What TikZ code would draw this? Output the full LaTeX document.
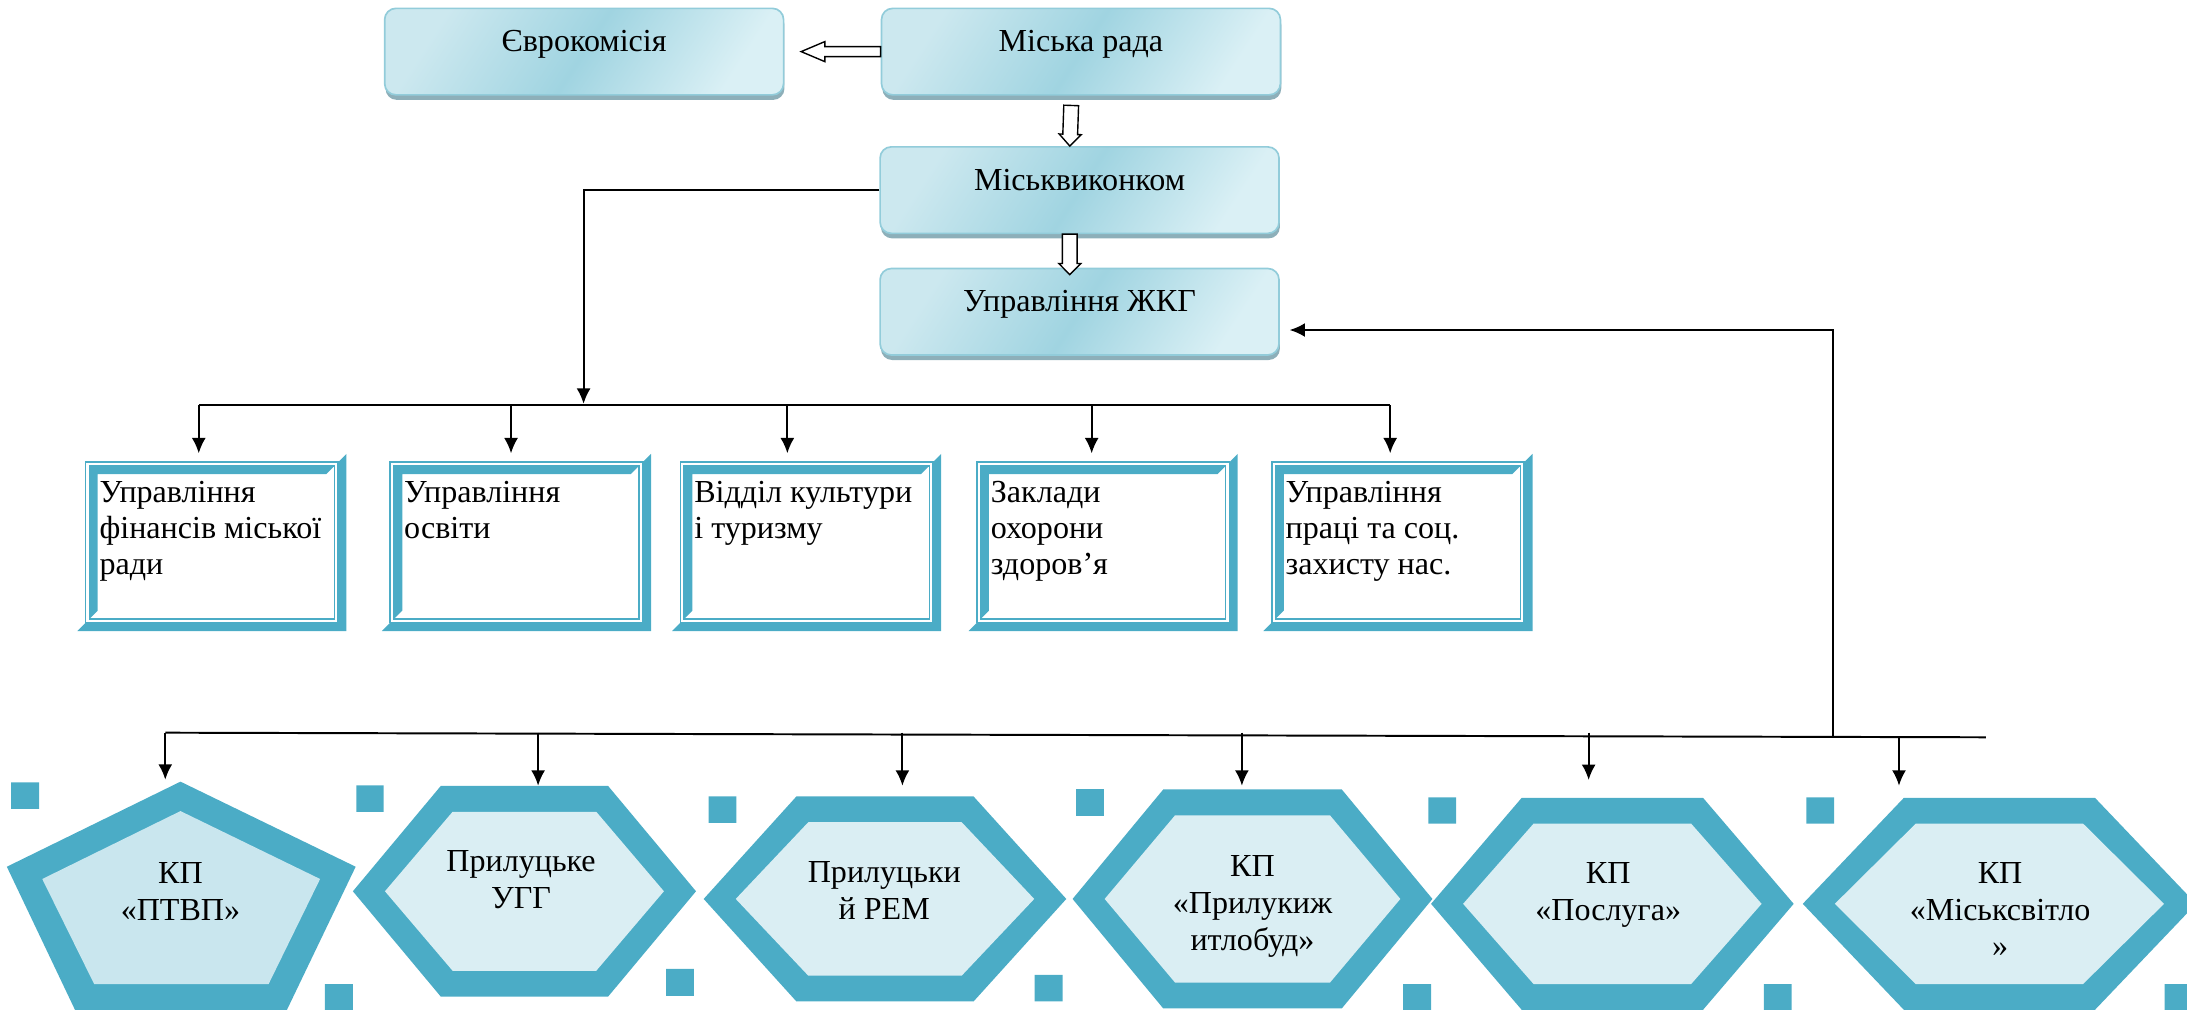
\documentclass[tikz,border=0pt]{standalone}
\usepackage{fontspec}
\setmainfont{Liberation Serif}
\usepackage{tikz}
\usetikzlibrary{arrows.meta, calc, shadows}
\definecolor{bevblue}{HTML}{4BACC6}
\definecolor{hexfill}{HTML}{DAEEF3}
\definecolor{pentfill}{HTML}{C9E6EE}
\definecolor{topl}{HTML}{CCE8EF}
\definecolor{topm}{HTML}{A0D4E1}
\definecolor{topr}{HTML}{DAF0F5}
\definecolor{topline}{HTML}{92CCDA}
\definecolor{topshade}{HTML}{8DAFB9}
\newcommand{\stackc}[1]{\begin{tabular}[t]{@{}c@{}}#1\end{tabular}}
\newcommand{\stackl}[1]{\parbox[t][46.5pt][t]{80.5pt}{\begin{tabular}[t]{@{}l@{}}#1\end{tabular}}}
% hollow block arrow: start, tip, half shaft, half head, head length
\newcommand{\hollowarrow}[5]{%
	\coordinate (ha-s) at (#1);
	\coordinate (ha-t) at (#2);
	\coordinate (ha-h) at ($(ha-t)!#5!(ha-s)$);
	\filldraw[fill=white, draw=black, line width=0.5pt]
		($(ha-s)!#3!90:(ha-t)$) -- ($(ha-h)!#3!90:(ha-t)$) -- ($(ha-h)!#4!90:(ha-t)$)
		-- (ha-t) -- ($(ha-h)!#4!-90:(ha-t)$) -- ($(ha-h)!#3!-90:(ha-t)$)
		-- ($(ha-s)!#3!-90:(ha-t)$) -- cycle;
}
% hexagon: centre x, centre y, half width, half top edge, half height
\newcommand{\hexagon}[5]{%
	\fill[bevblue] ({#1-#3},#2) -- ({#1-#4},{#2-#5}) -- ({#1+#4},{#2-#5}) -- ({#1+#3},#2)
		-- ({#1+#4},{#2+#5}) -- ({#1-#4},{#2+#5}) -- cycle;
	\fill[hexfill] ({#1-#3+23},#2) -- ({#1-#4+8.5},{#2-#5+18.5}) -- ({#1+#4-8.5},{#2-#5+18.5})
		-- ({#1+#3-23},#2) -- ({#1+#4-8.5},{#2+#5-18.5}) -- ({#1-#4+8.5},{#2+#5-18.5}) -- cycle;
}

\begin{document}
\begin{tikzpicture}[x=0.5pt, y=-0.5pt,
	topbox/.style={rectangle, rounded corners=4pt, minimum width=143pt, minimum height=31pt,
		inner sep=0pt, text height=4pt, text depth=4pt, draw=topline, line width=0.6pt,
		left color=topl, right color=topr, middle color=topm, shading angle=57,
		drop shadow={shadow xshift=0.3pt, shadow yshift=-1.8pt, fill=topshade, opacity=1},
		font=\fontsize{11.5}{13.5}\selectfont},
	framebox/.style={anchor=north west, minimum width=96.5pt, minimum height=63.5pt,
		inner xsep=8pt, inner ysep=8.5pt, font=\fontsize{11.5}{12.9}\selectfont,
		path picture={
			\coordinate (nw) at (path picture bounding box.north west);
			\coordinate (ne) at (path picture bounding box.north east);
			\coordinate (se) at (path picture bounding box.south east);
			\coordinate (sw) at (path picture bounding box.south west);
			\fill[bevblue] (ne) -- (se) -- (sw) -- ([shift={(3pt,3pt)}]sw) -- ([shift={(-3pt,3pt)}]se)
				-- ([shift={(-3pt,-3pt)}]ne) -- cycle;
			\draw[bevblue, line width=0.6pt] ([shift={(3pt,-3pt)}]nw) rectangle ([shift={(-3pt,3pt)}]se);
			\fill[bevblue] ([shift={(4.3pt,4.3pt)}]sw) -- ([shift={(4.3pt,-4.3pt)}]nw) -- ([shift={(-4.3pt,-4.3pt)}]ne)
				-- ([shift={(-7.3pt,-7.3pt)}]ne) -- ([shift={(7.3pt,-7.3pt)}]nw) -- ([shift={(7.3pt,7.3pt)}]sw) -- cycle;
			\draw[bevblue, line width=0.5pt] ([shift={(4.3pt,-4.3pt)}]nw) rectangle ([shift={(-4.3pt,4.3pt)}]se);
		}},
	hextext/.style={anchor=base, inner sep=0pt, font=\fontsize{11.5}{13.2}\selectfont},
	link/.style={line width=0.7pt, -{Latex[length=5.5pt, width=5pt]}},
	bus/.style={line width=0.7pt}]
	\useasboundingbox (0,0) rectangle (1568,724);
	\clip (0,0) rectangle (1568,724);

	% bottom shapes
	\fill[bevblue] (129.4,560.4) -- (255,621.4) -- (205.5,724.5) -- (54,724.5) -- (4.9,621.4) -- cycle;
	\fill[pentfill] (129.4,581.5) -- (229.5,630.2) -- (192.6,705.5) -- (67.5,705.5) -- (30.3,630.2) -- cycle;
	\hexagon{376}{639}{123}{60}{75.5}
	\hexagon{634.5}{644.5}{130}{63.5}{73.5}
	\hexagon{898}{644.5}{129}{64}{78.5}
	\hexagon{1156}{648}{130}{65}{76}
	\hexagon{1433.5}{648}{141}{68.5}{76}
	\fill[bevblue] (8,561) rectangle (28,580) (233,705.5) rectangle (253,724.5)
		(255.5,563) rectangle (275,582) (477.6,694.7) rectangle (497.5,714)
		(508,571) rectangle (528,590) (741.7,699) rectangle (761.8,718)
		(771.5,565.7) rectangle (791.5,585) (1006,705.5) rectangle (1026,724.5)
		(1024,571.7) rectangle (1044,590.5) (1264.6,705.5) rectangle (1284.5,724.5)
		(1295,571.7) rectangle (1315,590.5) (1552,705.5) rectangle (1572,724.5);
	\node[hextext] (h1) at (129.4,633.3) {\stackc{КП\\«ПТВП»}};
	\node[hextext] (h2) at (373.6,625) {\stackc{Прилуцьке\\УГГ}};
	\node[hextext] (h3) at (634,632.8) {\stackc{Прилуцьки\\й РЕМ}};
	\node[hextext] (h4) at (898,628.5) {\stackc{КП\\«Прилукиж\\итлобуд»}};
	\node[hextext] (h5) at (1153,633.3) {\stackc{КП\\«Послуга»}};
	\node[hextext] (h6) at (1434,633.3) {\stackc{КП\\«Міськсвітло\\»}};

	% top boxes
	\node[topbox] (ev) at (418.8,37) {Єврокомісія};
	\node[topbox] (mr) at (775,37) {Міська рада};
	\node[topbox] (mv) at (774,136.3) {Міськвиконком};
	\node[topbox] (zhkg) at (774,223.5) {Управління ЖКГ};
	\hollowarrow{mr.west}{[xshift=6pt]ev.east}{1.8pt}{3.6pt}{8.5pt}
	\hollowarrow{[shift={(-7,7)}]mr.south}{[xshift=-3.5pt]mv.north}{2.65pt}{3.95pt}{4.2pt}
	\hollowarrow{[xshift=-3.5pt]mv.south}{[shift={(-7,5)}]zhkg.north}{2.65pt}{3.95pt}{4pt}

	% departments
	\node[framebox] (f1) at (55,325) {\stackl{Управління\\фінансів міської\\ради}};
	\node[framebox] (f2) at (273.4,325) {\stackl{Управління\\освіти}};
	\node[framebox] (f3) at (481.4,325) {\stackl{Відділ культури\\і туризму}};
	\node[framebox] (f4) at (694,325) {\stackl{Заклади\\охорони\\здоров’я}};
	\node[framebox] (f5) at (905.4,325) {\stackl{Управління\\праці та соц.\\захисту нас.}};

	\coordinate (fbusJ) at (418.4,289.5);
	\coordinate (a1) at (142.5,290.5);
	\coordinate (a2) at (366.4,290.5);
	\coordinate (a3) at (564.5,290.5);
	\coordinate (a4) at (782.7,290.5);
	\coordinate (a5) at (996.7,290.5);
	\draw[link] (mv.west) -| (fbusJ);
	\draw[bus] (a1) -- (a5);
	\draw[link] (a1) -- (a1 |- f1.north);
	\draw[link] (a2) -- (a2 |- f2.north);
	\draw[link] (a3) -- (a3 |- f3.north);
	\draw[link] (a4) -- (a4 |- f4.north);
	\draw[link] (a5) -- (a5 |- f5.north);

	% enterprises
	\coordinate (busL) at (118.5,525.3);
	\coordinate (busR) at (1423.7,528.6);
	\coordinate (busJ) at (1314,528.3);
	\coordinate (t1) at (118.5,559);
	\coordinate (t2) at (385.8,563.3);
	\coordinate (t3) at (647,563.3);
	\coordinate (t4) at (890.4,563.3);
	\coordinate (t5) at (1139,559.2);
	\coordinate (t6) at (1361.5,563.3);
	\draw[bus] (busL) -- (busR);
	\draw[link] (busJ) |- ([shift={(7,13.1)}]zhkg.east);
	\draw[link] (busL) -- (t1);
	\draw[link] (t2 |- busL) -- (t2);
	\draw[link] (t3 |- busL) -- (t3);
	\draw[link] (t4 |- busL) -- (t4);
	\draw[link] (t5 |- busL) -- (t5);
	\draw[link] (t6 |- busJ) -- (t6);
\end{tikzpicture}
\end{document}
